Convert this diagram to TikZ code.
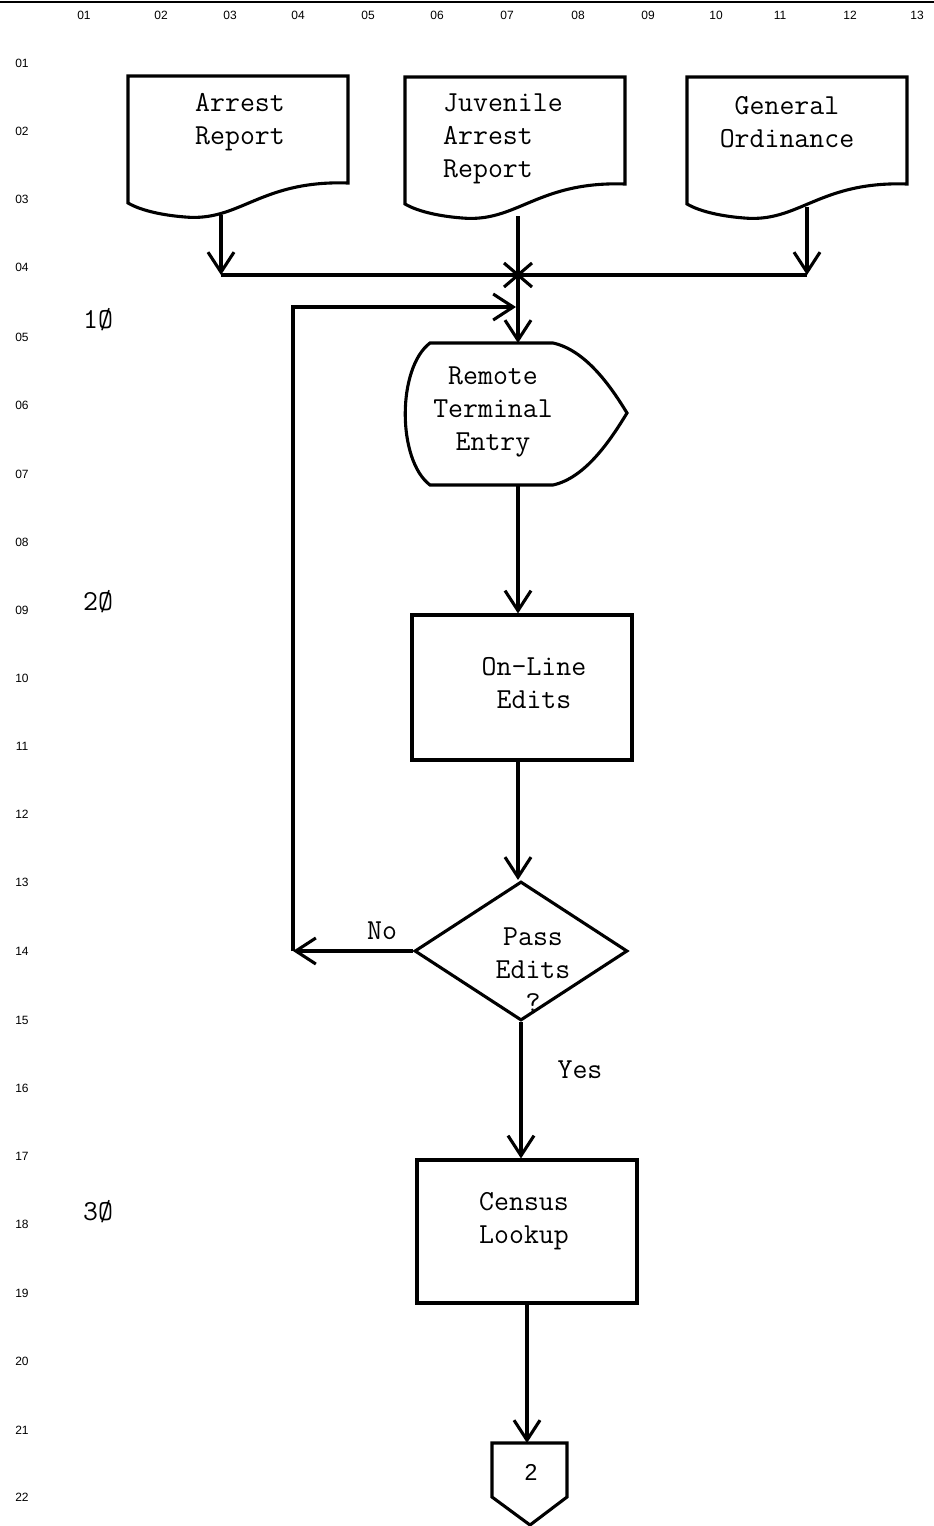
\documentclass[tikz,border=0pt]{standalone}
\usepackage{fontspec}
\newfontfamily\lsans{Liberation Sans}
\usetikzlibrary{arrows.meta,shapes.geometric}
\begin{document}
\begin{tikzpicture}[x=1pt,y=-1pt,
  lw/.style={line width=3.1pt},
  shp/.style={lw, draw=black, line join=miter},
  arr/.style={lw, -{Straight Barb[length=20pt,width=26pt]}},
  ln/.style={lw},
  txt/.style={font=\ttfamily\fontsize{29}{33}\selectfont, align=center, inner sep=0pt},
  gridlbl/.style={font=\lsans\fontsize{12}{12}\selectfont, inner sep=0pt},
  boxnode/.style={draw, lw, rectangle, inner sep=0pt},
  docshape/.pic={\draw[shp] (0,0) -- (220,0) -- (220,107) .. controls (132,104) and (112,146) .. (57,141) .. controls (32,139) and (12,134) .. (0,127) -- cycle;}
]
\path[use as bounding box] (0,0) rectangle (934,1526);
\fill[white] (0,0) rectangle (934,1526);
\draw[line width=2.5pt] (0,2) -- (934,2);

% grid labels
\foreach \lab/\xx in {01/84,02/161,03/230,04/298,05/368,06/437,07/507,08/578,09/648,10/716,11/780,12/850,13/917}
  \node[gridlbl] (col\lab) at (\xx,15) {\lab};
\foreach \lab/\yy in {01/63,02/131,03/199,04/267,05/337,06/405,07/474,08/542,09/610,10/678,11/746,12/814,13/882,14/951,15/1020,16/1088,17/1156,18/1224,19/1293,20/1361,21/1430,22/1497}
  \node[gridlbl] (row\lab) at (22,\yy) {\lab};

% side labels
\node[txt] (s10) at (98,320) {1Ø};
\node[txt] (s20) at (98,602) {2Ø};
\node[txt] (s30) at (98,1212) {3Ø};

% documents
\pic at (128,76) {docshape};
\node[txt] (arrest) at (240,122) {Arrest\\Report};
\pic at (405,77) {docshape};
\node[txt, align=left, anchor=west] (juv) at (443,139) {Juvenile\\Arrest\\Report};
\pic at (687,77) {docshape};
\node[txt] (gen) at (787,122) {General\\Ordinance};

\coordinate (arrOut) at (221,215);
\coordinate (arrIn) at (221,275);
\coordinate (juvOut) at (518,216);
\coordinate (genOut) at (807,207);
\coordinate (genIn) at (807,275);
\coordinate (j) at (518,275);

\draw[ln] (arrIn) -- (genIn);
\draw[arr] (arrOut) -- (arrIn);
\draw[arr] (genOut) -- (genIn);
\draw[ln] (juvOut) -- (j);
\draw[ln] ([shift={(-14,-12)}]j) -- ([shift={(14,12)}]j);
\draw[ln] ([shift={(-14,12)}]j) -- ([shift={(14,-12)}]j);

% remote terminal entry (display)
\draw[shp] (430,343) -- (553,343) .. controls (585,350) and (610,385) .. (627,413)
  .. controls (610,441) and (585,478) .. (553,485) -- (430,485)
  .. controls (397,460) and (397,368) .. (430,343) -- cycle;
\node[txt] (rem) at (493,412) {Remote\\Terminal\\Entry};
\coordinate (remTop) at (518,343);
\coordinate (remBot) at (518,485);
\draw[arr] (j) -- (remTop);

% on-line edits
\node[boxnode, minimum width=220pt, minimum height=145pt] (olbox) at (522,687.5) {};
\node[txt] (oltxt) at (534,683) {On-Line\\Edits};
\draw[arr] (remBot) -- (remBot |- olbox.north);

% decision
\node[draw, lw, diamond, inner sep=0pt, minimum width=213pt, minimum height=139pt] (dec) at (521,951) {};
\node[txt] (dectxt) at (533,970) {Pass\\Edits\\?};
\draw[arr] (remBot |- olbox.south) -- (remBot |- dec.north);

% loop back
\coordinate (loopB) at (293,951);
\coordinate (loopT) at (293,307);
\coordinate (loopEnd) at (516,307);
\draw[arr] (dec.west) -- (loopB);
\draw[arr] (loopB) -- (loopT) -- (loopEnd);
\node[txt] (no) at (382,931) {No};

% census lookup
\node[boxnode, minimum width=220pt, minimum height=143pt] (cbox) at (527,1231.5) {};
\node[txt] (ctxt) at (524,1221) {Census\\Lookup};
\draw[arr] (dec.south) -- (dec.south |- cbox.north);
\node[txt] (yes) at (580,1070) {Yes};

% off-page connector
\draw[shp] (492,1443) -- (567,1443) -- (567,1497) -- (530,1525) -- (492,1497) -- cycle;
\coordinate (connTop) at (527,1443);
\node[font=\lsans\fontsize{23}{23}\selectfont, inner sep=0pt] (conn) at (531,1472) {2};
\draw[arr] (cbox.south) -- (connTop);
\end{tikzpicture}
\end{document}
